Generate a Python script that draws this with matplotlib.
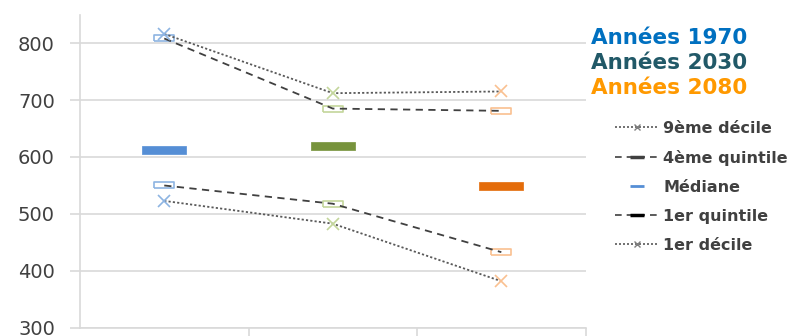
import matplotlib.pyplot as plt
from matplotlib.lines import Line2D

# data
periodes = ["Années 1970", "Années 2030", "Années 2080"]
decile9 = [816, 712, 715]
quintile4 = [808, 685, 681]
mediane = [613, 620, 549]
quintile1 = [550, 518, 433]
decile1 = [523, 483, 382]

titre_couleurs = ["#0070C0", "#215968", "#FF9900"]
median_couleurs = ["#558ED5", "#77933C", "#E46C0A"]
marker_couleurs = ["#8DB4E2", "#C3D69B", "#FAC090"]

fig = plt.figure(figsize=(7.95, 3.36), dpi=100)
ax = fig.add_axes([0.1006, 0.024, 0.636, 0.931])

x = range(len(periodes))

# rectangles for markers
box = [(-1, -0.28), (1, -0.28), (1, 0.28), (-1, 0.28), (-1, -0.28)]
bar = [(-1, -0.17), (1, -0.17), (1, 0.17), (-1, 0.17), (-1, -0.17)]

# lines
ax.plot(x, decile9, linestyle=(0, (1.2, 1.2)), color="#595959", lw=1.3, zorder=2)
ax.plot(x, decile1, linestyle=(0, (1.2, 1.2)), color="#595959", lw=1.3, zorder=2)
ax.plot(x, quintile4, linestyle=(0, (4, 3)), color="#404040", lw=1.3, zorder=2)
ax.plot(x, quintile1, linestyle=(0, (4, 3)), color="#404040", lw=1.3, zorder=2)

# markers, one colour per period
for i in x:
    c = marker_couleurs[i]
    ax.plot(i, decile9[i], marker="x", ms=8, mew=1.2, color=c, zorder=3)
    ax.plot(i, decile1[i], marker="x", ms=8, mew=1.2, color=c, zorder=3)
    ax.plot(i, quintile4[i], marker=box, ms=15, mew=1.2, mec=c, mfc="none", zorder=1)
    ax.plot(i, quintile1[i], marker=box, ms=15, mew=1.2, mec=c, mfc="none", zorder=1)
    ax.plot(i, mediane[i], marker=bar, ms=31, mew=0.5, mec=median_couleurs[i],
            mfc=median_couleurs[i], zorder=3)

ax.set_xlim(-0.5, 2.5)
ax.set_ylim(300, 849)
ax.set_yticks([300, 400, 500, 600, 700, 800])
ax.set_xticks([0.5, 1.5, 2.5])
ax.set_xticklabels([])
ax.yaxis.grid(True, color="#D9D9D9", lw=1.2)
ax.set_axisbelow(True)
ax.tick_params(axis="y", length=7, width=1.2, color="#D9D9D9", pad=11,
               labelsize=14, labelcolor="#404040")
ax.tick_params(axis="x", length=7, width=1.2, color="#D9D9D9")
for s in ["top", "right"]:
    ax.spines[s].set_visible(False)
for s in ["left", "bottom"]:
    ax.spines[s].set_color("#D9D9D9")
    ax.spines[s].set_linewidth(1.2)

# period titles
for k, p in enumerate(periodes):
    fig.text(0.744, 0.887 - k * 0.0745, p, color=titre_couleurs[k],
             fontsize=15.5, fontweight="bold", va="center", ha="left")

# legend
handles = [
    Line2D([], [], linestyle=(0, (1.2, 1.2)), color="#595959", lw=1.2,
           marker="x", ms=5, mec="#7F7F7F"),
    Line2D([], [], linestyle=(0, (4, 3)), color="#404040", lw=1.2,
           marker="_", ms=10, mew=2.5, mec="#404040"),
    Line2D([], [], linestyle="none", marker="_", ms=10, mew=2, mec="#558ED5"),
    Line2D([], [], linestyle=(0, (4, 3)), color="#404040", lw=1.2,
           marker="_", ms=10, mew=2.5, mec="#000000"),
    Line2D([], [], linestyle=(0, (1.2, 1.2)), color="#595959", lw=1.2,
           marker="x", ms=5, mec="#7F7F7F"),
]
labels = ["9ème décile", "4ème quintile", "Médiane", "1er quintile", "1er décile"]
leg = fig.legend(handles, labels, loc="upper left", bbox_to_anchor=(0.766, 0.66),
                 frameon=False,
                 prop={"weight": "bold", "size": 11.5},
                 labelspacing=0.88, handlelength=2.7,
                 handletextpad=0.3, borderaxespad=0)
for t in leg.get_texts():
    t.set_color("#404040")

fig.savefig("out.png", dpi=100)
